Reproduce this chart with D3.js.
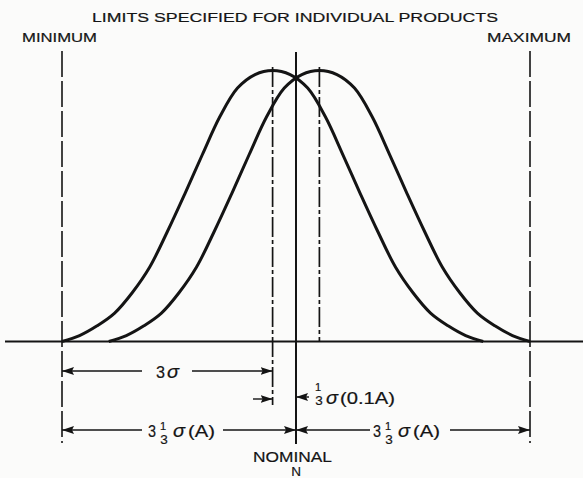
<!DOCTYPE html>
<html>
<head>
<meta charset="utf-8">
<script src="https://cdn.jsdelivr.net/npm/d3@7"></script>
<style>
  body { margin: 0; background: #fbfbfa; }
  text { font-family: "Liberation Sans", Arial, sans-serif; fill: #141414; stroke: #141414; stroke-width: 0.2; }
</style>
</head>
<body>
<div id="container"></div>
<script>
const w = 583;
const h = 478;

// chart values (in sigma units, nominal = 0)
const title = "LIMITS SPECIFIED FOR INDIVIDUAL PRODUCTS";
const limitLabels = ["MINIMUM", "MAXIMUM"];
const limitSigmas = [-10 / 3, 10 / 3];
const means = [-1 / 3, 1 / 3];
const profileOffsets = [-3, -2.75, -2.5, -2.25, -2, -1.75, -1.5, -1.25, -1, -0.75, -0.5, -0.25, 0,
  0.25, 0.5, 0.75, 1, 1.25, 1.5, 1.75, 2, 2.25, 2.5, 2.75, 3];
const profileHeights = [0, 0.022, 0.058, 0.105, 0.18, 0.275, 0.405, 0.545, 0.69, 0.83, 0.935, 0.985, 1,
  0.985, 0.935, 0.83, 0.69, 0.545, 0.405, 0.275, 0.18, 0.105, 0.058, 0.022, 0];
const nominalLabels = ["NOMINAL", "N"];

const ink = "#141414";
const svg = d3.select("#container").append("svg")
  .attr("width", w).attr("height", h);

const x = d3.scaleLinear().domain(limitSigmas).range([62, 530]);
const y = d3.scaleLinear().domain([0, 1]).range([341.5, 70.5]);

const defs = svg.append("defs");
defs.append("marker")
  .attr("id", "head")
  .attr("markerUnits", "userSpaceOnUse")
  .attr("viewBox", "0 0 12 8")
  .attr("refX", 12).attr("refY", 4)
  .attr("markerWidth", 12).attr("markerHeight", 8)
  .attr("orient", "auto")
  .append("path").attr("d", "M0,0 L12,4 L0,8 L2,4 Z").attr("fill", ink);

// baseline
svg.append("line")
  .attr("x1", 5).attr("x2", w).attr("y1", y(0)).attr("y2", y(0))
  .attr("stroke", ink).attr("stroke-width", 2);

// min / max dashed limits
svg.selectAll(".limit").data(limitSigmas).enter().append("line")
  .attr("class", "limit")
  .attr("x1", d => x(d)).attr("x2", d => x(d))
  .attr("y1", 51).attr("y2", 443)
  .attr("stroke", ink).attr("stroke-width", 1.6)
  .attr("stroke-dasharray", "26,4");

// nominal
svg.append("line")
  .attr("x1", x(0)).attr("x2", x(0)).attr("y1", 52).attr("y2", 444)
  .attr("stroke", ink).attr("stroke-width", 2);

// mean dash-dot lines
svg.selectAll(".mean").data(means).enter().append("line")
  .attr("class", "mean")
  .attr("x1", d => x(d)).attr("x2", d => x(d))
  .attr("y1", 67).attr("y2", (d, i) => i === 0 ? 405 : y(0))
  .attr("stroke", ink).attr("stroke-width", 1.7)
  .attr("stroke-dasharray", "20,3,4,3");

// distribution curves
const curve = d3.line()
  .x(d => x(d.m + d.o))
  .y(d => y(d.h))
  .curve(d3.curveCatmullRom.alpha(0.5));

svg.selectAll(".dist").data(means).enter().append("path")
  .attr("class", "dist")
  .attr("d", m => curve(profileOffsets.map((o, i) => ({ m: m, o: o, h: profileHeights[i] }))))
  .attr("fill", "none").attr("stroke", ink).attr("stroke-width", 3);

// arrows
function arrow(x1, x2, yy) {
  svg.append("line")
    .attr("x1", x1).attr("x2", x2).attr("y1", yy).attr("y2", yy)
    .attr("stroke", ink).attr("stroke-width", 1.4)
    .attr("marker-end", "url(#head)");
}
arrow(142, x(-10 / 3), 371);
arrow(192, x(-1 / 3), 371);
arrow(253, x(-1 / 3), 399);
arrow(309, x(0), 397);
arrow(142, x(-10 / 3), 430);
arrow(223, x(0), 430);
arrow(370, x(0), 430);
arrow(450, x(10 / 3), 430);

// texts
svg.append("text")
  .attr("x", 92).attr("y", 22)
  .attr("font-size", 13.5).attr("textLength", 406).attr("lengthAdjust", "spacingAndGlyphs")
  .text(title);

svg.selectAll(".limlab").data(limitLabels).enter().append("text")
  .attr("class", "limlab")
  .attr("x", (d, i) => i === 0 ? 22 : 487).attr("y", 42)
  .attr("font-size", 13.5)
  .attr("textLength", (d, i) => i === 0 ? 75 : 84).attr("lengthAdjust", "spacingAndGlyphs")
  .text(d => d);

function put(str, xx, yy, size, opts) {
  const t = svg.append("text").attr("x", xx).attr("y", yy).attr("font-size", size).text(str);
  if (opts && opts.italic) t.attr("font-style", "italic");
  if (opts && opts.anchor) t.attr("text-anchor", opts.anchor);
  if (opts && opts.len) t.attr("textLength", opts.len).attr("lengthAdjust", "spacingAndGlyphs");
  return t;
}

// 3 sigma
put("3", 156, 377.5, 16.5, { len: 9 });
put("\u03c3", 167, 377.5, 18, { italic: true, len: 12 });

// third sigma fraction label
function fraction(cx, base) {
  put("1", cx, base - 6.5, 11, { anchor: "middle" });
  put("3", cx + 1, base + 7, 13.5, { anchor: "middle" });
}
function sigmaA(x0, base) {
  put("3", x0, base, 16.5, { len: 8 });
  fraction(x0 + 15, base);
  put("\u03c3", x0 + 25, base, 18, { italic: true, len: 12 });
  put("(A)", x0 + 40, base, 16.5, { len: 27 });
}
sigmaA(148, 436.5);
sigmaA(373, 436.5);

fraction(318, 397.5);
put("\u03c3", 326, 404, 18, { italic: true, len: 12 });
put("(0.1A)", 340, 404, 16.5, { len: 55 });

svg.append("text")
  .attr("x", 253).attr("y", 461.5).attr("font-size", 15.5)
  .attr("textLength", 79).attr("lengthAdjust", "spacingAndGlyphs")
  .text(nominalLabels[0]);
svg.append("text")
  .attr("x", x(0)).attr("y", 476).attr("font-size", 13.5)
  .attr("text-anchor", "middle")
  .text(nominalLabels[1]);
</script>
</body>
</html>
